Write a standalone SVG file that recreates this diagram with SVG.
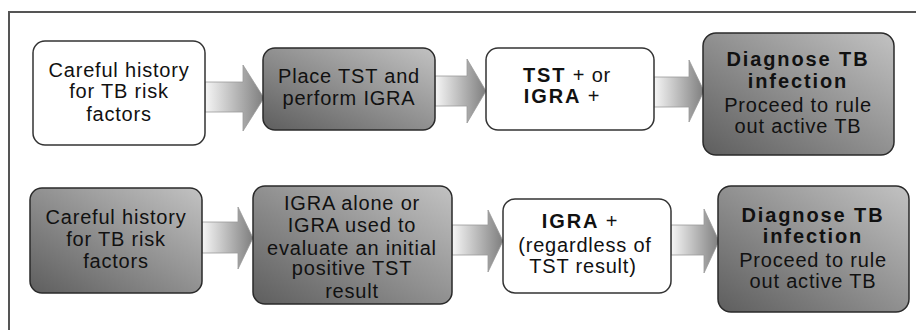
<svg xmlns="http://www.w3.org/2000/svg" width="916" height="330" viewBox="0 0 916 330">
<defs>
<linearGradient id="dark" x1="0" y1="1" x2="1" y2="0">
<stop offset="0" stop-color="#5e5e5e"/>
<stop offset="1" stop-color="#c2c2c2"/>
</linearGradient>
<linearGradient id="arr" x1="0" y1="0" x2="1" y2="0">
<stop offset="0" stop-color="#f6f6f6"/>
<stop offset="1" stop-color="#7e7e7e"/>
</linearGradient>
<style>
.w{fill:#fff;stroke:#333;stroke-width:1.5}
.d{fill:url(#dark);stroke:#2a2a2a;stroke-width:1.5}
.a{fill:url(#arr);stroke:#999;stroke-width:0.8}
text{font-family:"Liberation Sans",Arial,sans-serif;font-size:20px;fill:#111;text-anchor:middle;letter-spacing:0.8px}
.b{font-weight:bold;letter-spacing:1.9px}
</style>
</defs>
<rect x="-10" y="0" width="936" height="340" fill="#fff"/>
<path d="M9 340 V12 H926" fill="none" stroke="#555" stroke-width="2"/>
<g id="connectors">
<path class="a" d="M205 82 H243 V65 L264 98 L243 131 V112 H205 Z"/>
<path class="a" d="M435 76 H467 V59 L486 91 L467 123 V106 H435 Z"/>
<path class="a" d="M654 77 H689 V60 L704 91 L689 122 V107 H654 Z"/>
<path class="a" d="M202 222 H238 V207 L253 238 L238 269 V253 H202 Z"/>
<path class="a" d="M452 225 H488 V210 L503 241 L488 272 V255 H452 Z"/>
<path class="a" d="M671 225 H704 V209 L719 241 L704 273 V255 H671 Z"/>
</g>
<g id="a1">
<rect class="w" x="33" y="41" width="172" height="104" rx="12"/>
<text x="119" y="77">Careful history</text>
<text x="119" y="98">for TB risk</text>
<text x="119" y="121">factors</text>
</g>
<g id="b1">
<rect class="d" x="263" y="48" width="172" height="82" rx="12"/>
<text x="349" y="83">Place TST and</text>
<text x="349" y="105">perform IGRA</text>
</g>
<g id="c1">
<rect class="w" x="486" y="48" width="168" height="82" rx="12"/>
<text x="567" y="82"><tspan class="b">TST</tspan> + or</text>
<text x="562" y="103"><tspan class="b">IGRA</tspan> +</text>
</g>
<g id="d1">
<rect class="d" x="703" y="33" width="191" height="122" rx="13"/>
<text class="b" x="798" y="66">Diagnose TB</text>
<text class="b" x="798" y="88">infection</text>
<text x="798" y="112">Proceed to rule</text>
<text x="798" y="133">out active TB</text>
</g>
<g id="a2">
<rect class="d" x="30" y="188" width="172" height="105" rx="12"/>
<text x="116" y="224">Careful history</text>
<text x="116" y="246">for TB risk</text>
<text x="116" y="268">factors</text>
</g>
<g id="b2">
<rect class="d" x="253" y="186" width="199" height="118" rx="12"/>
<text x="352" y="210">IGRA alone or</text>
<text x="352" y="232">IGRA used to</text>
<text x="352" y="255">evaluate an initial</text>
<text x="352" y="275">positive TST</text>
<text x="352" y="298">result</text>
</g>
<g id="c2">
<rect class="w" x="503" y="199" width="168" height="94" rx="12"/>
<text x="580" y="228"><tspan class="b">IGRA</tspan> +</text>
<text x="585" y="252">(regardless of</text>
<text x="583" y="273">TST result)</text>
</g>
<g id="d2">
<rect class="d" x="718" y="186" width="191" height="126" rx="13"/>
<text class="b" x="813" y="222">Diagnose TB</text>
<text class="b" x="813" y="243">infection</text>
<text x="813" y="267">Proceed to rule</text>
<text x="813" y="288">out active TB</text>
</g>
</svg>
